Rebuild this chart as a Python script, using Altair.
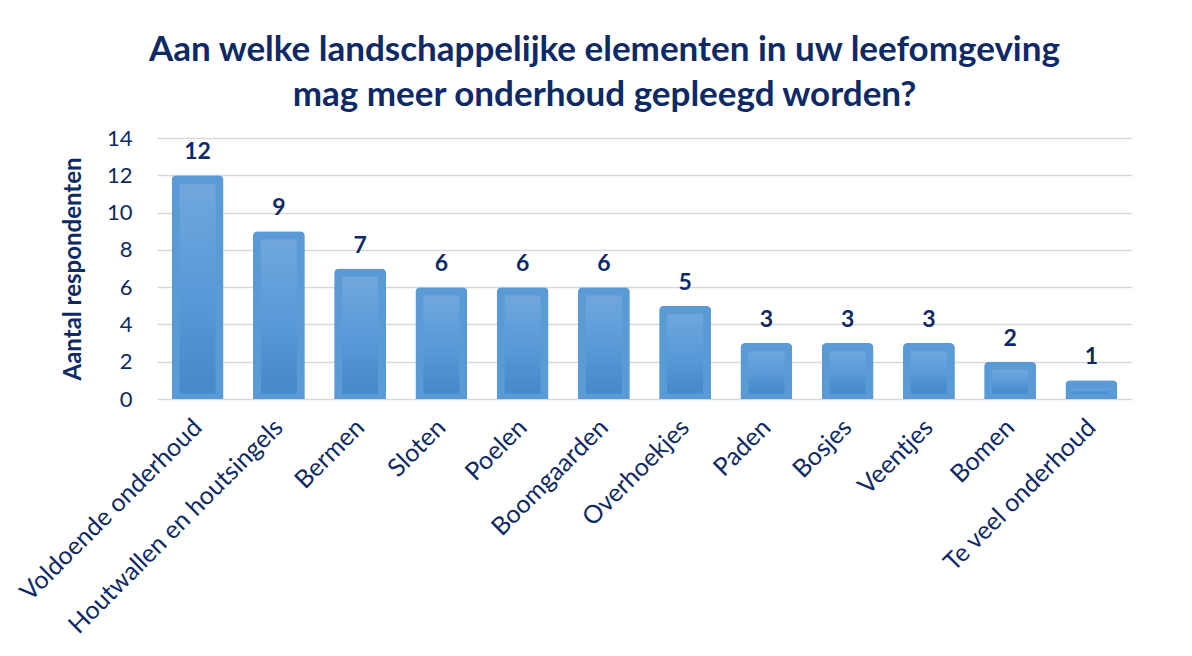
import altair as alt
import pandas as pd

categories = ["Voldoende onderhoud", "Houtwallen en houtsingels", "Bermen", "Sloten",
              "Poelen", "Boomgaarden", "Overhoekjes", "Paden", "Bosjes", "Veentjes",
              "Bomen", "Te veel onderhoud"]
values = [12, 9, 7, 6, 6, 6, 5, 3, 3, 3, 2, 1]
y_ticks = [0, 2, 4, 6, 8, 10, 12, 14]

df = pd.DataFrame({"cat": categories, "val": values})

NAVY = "#0E2A66"
FONT = "Lato"

x_axis = alt.Axis(labelAngle=315, labelAlign="right", labelBaseline="middle",
                  labelFontSize=25, labelColor=NAVY, labelFont=FONT,
                  labelPadding=24, ticks=False, domain=False, labelLimit=500)
x_scale = alt.Scale(paddingInner=0.36, paddingOuter=0.18)
y_axis = alt.Axis(values=y_ticks, labelOverlap=False, labelFontSize=22, labelColor=NAVY,
                  labelFont=FONT, titleFont=FONT, titleFontSize=24, titleColor=NAVY,
                  titleFontWeight="bold", titlePadding=21, ticks=False, domain=False,
                  gridColor="#D9D9D9", gridWidth=1.3, labelPadding=25)
y_scale = alt.Scale(domain=[0, 14])
Y_TITLE = "Aantal respondenten"

x = alt.X("cat:N", sort=categories, title=None, scale=x_scale, axis=x_axis)

base = alt.Chart(df)

outer = base.mark_bar(color="#5B9BD5", cornerRadiusTopLeft=5, cornerRadiusTopRight=5).encode(
    x=x, y=alt.Y("val:Q", title=Y_TITLE, scale=y_scale, axis=y_axis))

inner = base.transform_calculate(
    top="datum.val - 0.45", bot="0.3"
).mark_bar(
    size=36,
    color=alt.Gradient(gradient="linear", x1=0, y1=0, x2=0, y2=1,
                       stops=[alt.GradientStop(color="#70A7DD", offset=0),
                              alt.GradientStop(color="#5A9AD8", offset=0.5),
                              alt.GradientStop(color="#4589C9", offset=1)])
).encode(x=x, y=alt.Y("top:Q", title=Y_TITLE, scale=y_scale, axis=y_axis), y2="bot:Q")

labels = base.mark_text(dy=-11, baseline="bottom", fontSize=23, fontWeight="bold",
                        color=NAVY, font=FONT).encode(
    x=x, y=alt.Y("val:Q", title=Y_TITLE, scale=y_scale, axis=y_axis), text="val:Q")

chart = alt.layer(outer, inner, labels).properties(
    width=975, height=261,
    autosize="none",
    padding={"left": 149, "top": 130, "right": 52, "bottom": 249},
    title=alt.TitleParams(
        text=["Aan welke landschappelijke elementen in uw leefomgeving",
              "mag meer onderhoud gepleegd worden?"],
        fontSize=35, fontWeight="bold", color=NAVY, font=FONT,
        anchor="middle", dx=-40, lineHeight=45, offset=14)
).configure(background="white").configure_view(stroke=None)

chart.save("out.html", embed_options={"renderer": "svg", "actions": False})
